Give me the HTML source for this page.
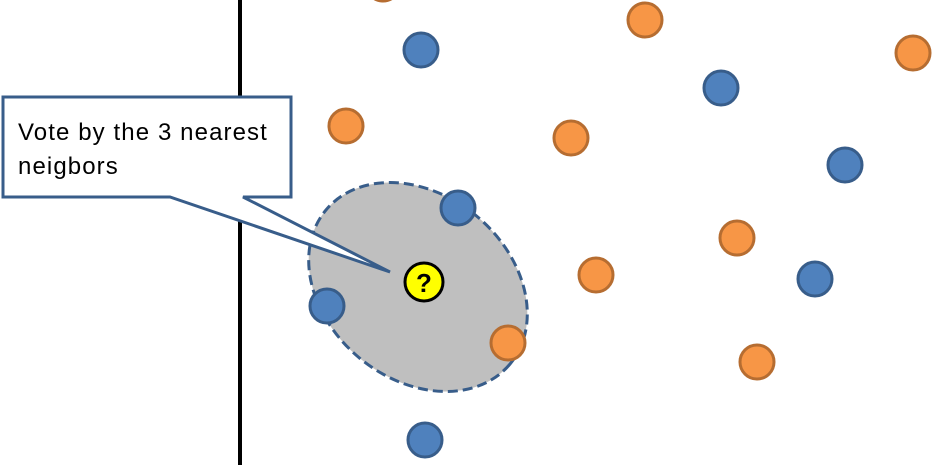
<!DOCTYPE html>
<html><head><style>body{margin:0;background:#fff}svg{display:block}</style></head><body>
<svg width="936" height="465" viewBox="0 0 936 465" xmlns="http://www.w3.org/2000/svg">
<line x1="240" y1="0" x2="240" y2="465" stroke="#000" stroke-width="4"/>
<ellipse cx="418" cy="287" rx="120" ry="92" transform="rotate(40 418 287)" fill="#bfbfbf" stroke="#385d8a" stroke-width="3" stroke-dasharray="10,5"/>
<g stroke-width="3">
<circle cx="383" cy="-16" r="17" fill="#f79646" stroke="#b66d31"/>
<g fill="#4f81bd" stroke="#385d8a">
<circle cx="421" cy="50" r="17"/><circle cx="721" cy="88" r="17"/><circle cx="845" cy="165" r="17"/>
<circle cx="458" cy="208" r="17"/><circle cx="327" cy="306" r="17"/><circle cx="815" cy="279" r="17"/>
<circle cx="425" cy="440" r="17"/></g>
<g fill="#f79646" stroke="#b66d31">
<circle cx="645" cy="20" r="17"/><circle cx="913" cy="53" r="17"/><circle cx="346" cy="126" r="17"/>
<circle cx="571" cy="138" r="17"/><circle cx="737" cy="238" r="17"/><circle cx="596" cy="275" r="17"/>
<circle cx="508" cy="343" r="17"/><circle cx="757" cy="362" r="17"/></g>
</g>
<path d="M3,97 H291 V197 H243 L390,272 L170,197 H3 Z" fill="#fff" stroke="#385d8a" stroke-width="3" stroke-linejoin="miter"/>
<text x="18" y="140" font-family="Liberation Sans, sans-serif" font-size="24" letter-spacing="1.1" fill="#000">Vote by the 3 nearest</text>
<text x="18" y="174" font-family="Liberation Sans, sans-serif" font-size="24" letter-spacing="1.1" fill="#000">neigbors</text>
<circle cx="424" cy="282" r="19" fill="#ffff00" stroke="#000" stroke-width="3"/>
<text x="424" y="292" text-anchor="middle" font-family="Liberation Sans, sans-serif" font-size="26" font-weight="bold" fill="#000">?</text>
</svg>
</body></html>
